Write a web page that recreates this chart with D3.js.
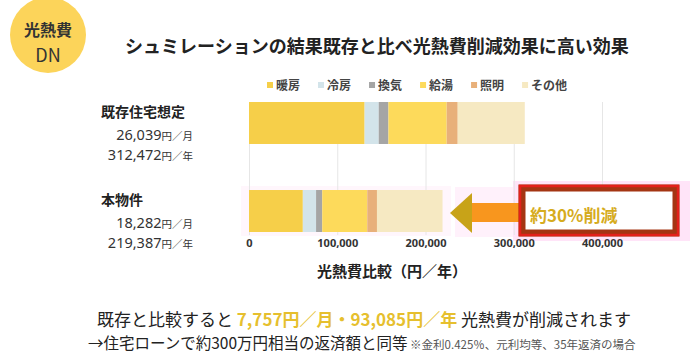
<!DOCTYPE html>
<html>
<head>
<meta charset="utf-8">
<script src="https://cdn.jsdelivr.net/npm/d3@7"></script>
<style>
  body { margin: 0; background: #fff; }
  svg { display: block; font-family: "Noto Sans CJK JP", "Noto Sans", sans-serif; }
</style>
</head>
<body>
<div class="dataGraph"></div>
<script>
'use strict';

// data
var categories = ['既存住宅想定', '本物件'];
var monthly = ['26,039', '18,282'];
var yearly = ['312,472', '219,387'];
var series = ['暖房', '冷房', '換気', '給湯', '照明', 'その他'];
var existingValues = [131000, 16000, 11000, 66000, 12500, 76000];
var newValues = [61000, 15000, 7000, 51000, 11000, 74300];
var tickValues = [0, 100000, 200000, 300000, 400000];
var colors = ['#F6CF49', '#D3E4EA', '#A5A5A5', '#FDDA5B', '#E8B07A', '#F6E9C2'];

var width = 699, height = 359;

var svg = d3.select('.dataGraph').append('svg')
  .attr('width', width)
  .attr('height', height);

// badge
svg.append('circle')
  .attr('cx', 48).attr('cy', 35).attr('r', 38)
  .attr('fill', '#FCD45A');
svg.append('text')
  .attr('x', 48).attr('y', 36)
  .attr('text-anchor', 'middle')
  .attr('font-size', 16).attr('font-weight', 'bold')
  .attr('fill', '#333')
  .text('光熱費');
svg.append('text')
  .attr('x', 48).attr('y', 62)
  .attr('text-anchor', 'middle')
  .attr('font-size', 18)
  .attr('fill', '#333')
  .text('DN');

svg.append('text')
  .attr('x', 125).attr('y', 53)
  .attr('font-size', 18).attr('font-weight', 'bold')
  .attr('fill', '#222')
  .text('シュミレーションの結果既存と比べ光熱費削減効果に高い効果');

var x = d3.scaleLinear()
  .domain([0, 400000])
  .range([249, 602]);

var y = d3.scaleBand()
  .domain(categories)
  .range([102, 232])
  .paddingInner(0.523)
  .paddingOuter(0);

// faint pink highlight behind the second bar and the callout
svg.append('rect')
  .attr('x', 241).attr('y', y('本物件') - 4)
  .attr('width', 210).attr('height', y.bandwidth() + 8)
  .attr('fill', '#FFF6FC');
svg.append('rect')
  .attr('x', 455).attr('y', 187).attr('width', 60).attr('height', 50)
  .attr('fill', '#FFF1FB');
svg.append('rect')
  .attr('x', 513).attr('y', 181).attr('width', 177).attr('height', 60)
  .attr('fill', '#FFE4F8');

// gridlines
svg.append('g')
  .attr('transform', 'translate(0,235)')
  .call(d3.axisBottom(x).tickValues(tickValues).tickSize(-133).tickFormat(''))
  .call(function(g) {
    g.select('.domain').remove();
    g.selectAll('line').attr('stroke', '#E6E6E6');
  });

// axis labels
svg.append('g')
  .attr('transform', 'translate(0,236)')
  .call(d3.axisBottom(x).tickValues(tickValues).tickSize(0).tickFormat(d3.format(',')))
  .call(function(g) {
    g.select('.domain').remove();
    g.selectAll('text')
      .attr('font-size', 11).attr('font-weight', 'bold')
      .attr('fill', '#333')
      .attr('font-family', '"Noto Sans", sans-serif');
  });

svg.append('text')
  .attr('x', 392).attr('y', 277)
  .attr('text-anchor', 'middle')
  .attr('font-size', 15).attr('font-weight', 'bold')
  .attr('fill', '#222')
  .text('光熱費比較（円／年）');

// legend
var lx = 267;
series.forEach(function(s, i) {
  svg.append('rect')
    .attr('x', lx).attr('y', 82).attr('width', 6).attr('height', 6)
    .attr('fill', colors[i]);
  var t = svg.append('text')
    .attr('x', lx + 9).attr('y', 89.5)
    .attr('font-size', 12).attr('font-weight', 'bold')
    .attr('fill', '#444')
    .text(s);
  lx += 9 + t.node().getComputedTextLength() + 18;
});

// stacked bars
var rows = [existingValues, newValues];
rows.forEach(function(vals, r) {
  var stacked = [];
  var acc = 0;
  vals.forEach(function(v, i) {
    stacked.push({ x0: acc, x1: acc + v, c: colors[i] });
    acc += v;
  });
  svg.append('g').selectAll('rect')
    .data(stacked)
    .enter().append('rect')
    .attr('x', function(d) { return x(d.x0); })
    .attr('width', function(d) { return x(d.x1) - x(d.x0); })
    .attr('y', y(categories[r]))
    .attr('height', y.bandwidth())
    .attr('fill', function(d) { return d.c; });
});

// left labels
categories.forEach(function(c, i) {
  var y0 = y(c);
  svg.append('text')
    .attr('x', 101).attr('y', y0 + 15)
    .attr('font-size', 14).attr('font-weight', 'bold')
    .attr('fill', '#222')
    .text(c);
  [[monthly[i], '円／月', 38], [yearly[i], '円／年', 58]].forEach(function(p) {
    var t = svg.append('text')
      .attr('x', 193).attr('y', y0 + p[2])
      .attr('text-anchor', 'end')
      .attr('fill', '#333');
    t.append('tspan').attr('font-size', 14.5).attr('font-family', '"Noto Sans", sans-serif').text(p[0]);
    t.append('tspan').attr('font-size', 10.5).text(p[1]);
  });
});

// arrow
svg.append('path')
  .attr('d', 'M470,203 L522,203 L522,222 L470,222 Z')
  .attr('fill', '#F8961E');
svg.append('path')
  .attr('d', 'M450,213 L472,193 L472,233 Z')
  .attr('fill', '#C8A318');

// callout box
svg.append('rect')
  .attr('x', 522).attr('y', 188).attr('width', 154).attr('height', 45)
  .attr('fill', '#fff')
  .attr('stroke', '#A43513').attr('stroke-width', 7);
svg.append('rect')
  .attr('x', 520).attr('y', 186).attr('width', 158).attr('height', 49)
  .attr('fill', 'none')
  .attr('stroke', '#E3201B').attr('stroke-width', 2.5);
svg.append('text')
  .attr('x', 530).attr('y', 222)
  .attr('font-size', 17).attr('font-weight', 'bold')
  .attr('fill', '#D6AC1E')
  .text('約30%削減');

// bottom summary
var l1 = svg.append('text')
  .attr('x', 97).attr('y', 326)
  .attr('font-size', 17)
  .attr('fill', '#222');
l1.append('tspan').text('既存と比較すると ');
l1.append('tspan').attr('fill', '#E6BF2E').attr('font-weight', 'bold').text('7,757円／月・93,085円／年');
l1.append('tspan').text(' 光熱費が削減されます');

var l2 = svg.append('text')
  .attr('x', 88).attr('y', 349)
  .attr('font-size', 15.5)
  .attr('fill', '#222');
l2.append('tspan').text('→住宅ローンで約300万円相当の返済額と同等');
l2.append('tspan').attr('font-size', 11.5).attr('fill', '#555').text(' ※金利0.425％、元利均等、35年返済の場合');
</script>
</body>
</html>
